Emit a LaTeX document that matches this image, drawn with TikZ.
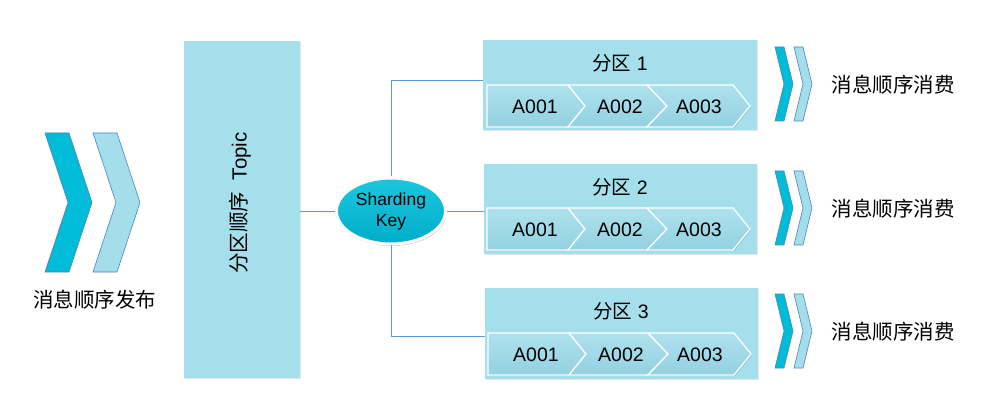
\documentclass[tikz,border=0pt]{standalone}
\usepackage{fontspec}
\setmainfont{Liberation Sans}
\newfontfamily\cjk{Noto Sans CJK SC}
\usetikzlibrary{shadows,shapes.geometric,calc}
\definecolor{cdark}{HTML}{00BCD8}
\definecolor{clight}{HTML}{A5DEEB}
\definecolor{cbox}{HTML}{A6DFEC}
\definecolor{cedge}{HTML}{4F81BD}
\definecolor{cline}{HTML}{5B9BD5}
\definecolor{csegtop}{HTML}{AEE1ED}
\definecolor{csegbot}{HTML}{93D1E1}
\definecolor{ckeytop}{HTML}{1CC6DE}
\definecolor{ckeybot}{HTML}{00AECB}
\begin{document}
\begin{tikzpicture}[x=1pt,y=-1pt,
  chevdark/.style={fill=cdark, draw=cedge, line width=0.6pt},
  chevlight/.style={fill=clight, draw=cedge, line width=0.6pt},
  panel/.style={fill=cbox, draw=none, inner sep=0pt,
    drop shadow={shadow xshift=1pt, shadow yshift=-1pt, opacity=0.2}},
  seg/.style={top color=csegtop, bottom color=csegbot, draw=white, line width=1.2pt,
    drop shadow={shadow xshift=1pt, shadow yshift=-1.2pt, opacity=0.3}},
  segtxt/.style={font=\fontsize{19.5}{23}\selectfont, inner sep=0pt},
  cntxt/.style={font=\fontsize{20.5}{24}\selectfont\cjk, inner sep=0pt},
  ptitle/.style={font=\fontsize{19.5}{23}\selectfont, inner sep=0pt},
  conn/.style={draw=cline, line width=0.9pt},
]
\useasboundingbox (0,0) rectangle (989,417);

% left chevrons
\draw[chevdark] (45,133) -- (69,133) -- (92,202.5) -- (69,272) -- (45,272) -- (68,202.5) -- cycle;
\draw[chevlight] (93,133) -- (117,133) -- (140,202.5) -- (117,272) -- (93,272) -- (116,202.5) -- cycle;
\node[cntxt] (pub) at (95,300) {消息顺序发布};

% topic
\node[panel, minimum width=116pt, minimum height=337pt] (topic) at (242,209.5) {};
\node[rotate=90, inner sep=0pt, font=\fontsize{20.5}{24}\selectfont] (topictxt) at (240,203) {{\cjk 分区顺序}\ \ Topic};

% sharding key
\node[ellipse, minimum width=109pt, minimum height=66pt, draw=white, line width=3pt,
  top color=ckeytop, bottom color=ckeybot, inner sep=0pt, align=center,
  font=\fontsize{17.5}{21}\selectfont,
  drop shadow={shadow xshift=1pt, shadow yshift=-2pt, opacity=0.4}] (key) at (391,211) {Sharding\\Key};

% partitions
\node[panel, minimum width=274pt, minimum height=90pt] (p1) at (620,85) {};
\node[panel, minimum width=273pt, minimum height=90pt] (p2) at (620.5,209) {};
\node[panel, minimum width=273pt, minimum height=91pt] (p3) at (621.5,333.5) {};

\node[ptitle] (t1) at (620,63) {{\cjk 分区} 1};
\node[ptitle] (t2) at (620,187) {{\cjk 分区} 2};
\node[ptitle] (t3) at (621,311) {{\cjk 分区} 3};

% connectors
\draw[conn] (topic.east |- key.west) -- (key.west);
\draw[conn] (key.north) |- ([yshift=5pt]p1.west);
\draw[conn] (key.east) -- (key.east -| p2.west);
\draw[conn] (key.south) |- ([yshift=-2.5pt]p3.west);

% sequence arrows
\foreach \m/\dx [count=\i] in {106/0,229/0,354/1}{
  \draw[seg] ({487+\dx},{\m-21}) -- ({568+\dx},{\m-21}) -- ({585+\dx},\m) -- ({568+\dx},{\m+21}) -- ({487+\dx},{\m+21}) -- cycle;
  \draw[seg] ({568+\dx},{\m-21}) -- ({647+\dx},{\m-21}) -- ({667+\dx},\m) -- ({647+\dx},{\m+21}) -- ({568+\dx},{\m+21}) -- ({585+\dx},\m) -- cycle;
  \draw[seg] ({647+\dx},{\m-21}) -- ({733+\dx},{\m-21}) -- ({750+\dx},\m) -- ({733+\dx},{\m+21}) -- ({647+\dx},{\m+21}) -- ({667+\dx},\m) -- cycle;
  \node[segtxt] (a\i a) at ({535+\dx},{\m+1}) {A001};
  \node[segtxt] (a\i b) at ({620+\dx},{\m+1}) {A002};
  \node[segtxt] (a\i c) at ({699+\dx},{\m+1}) {A003};
}

% right chevrons and labels
\foreach \c [count=\i] in {84,208,331}{
  \draw[chevdark] (775,{\c-37}) -- (784,{\c-37}) -- (793,\c) -- (784,{\c+37}) -- (775,{\c+37}) -- (784,\c) -- cycle;
  \draw[chevlight] (794,{\c-37}) -- (803,{\c-37}) -- (812,\c) -- (803,{\c+37}) -- (794,{\c+37}) -- (803,\c) -- cycle;
  \node[cntxt] (cons\i) at (893,{\c+1}) {消息顺序消费};
}
\end{tikzpicture}
\end{document}
